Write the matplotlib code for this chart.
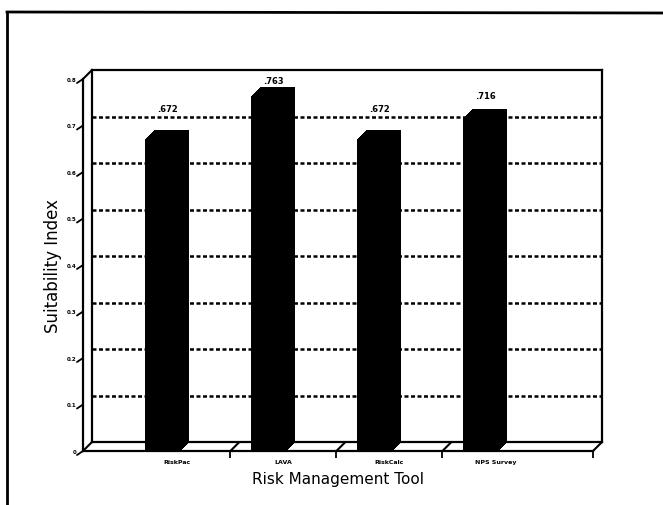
import numpy as np
import matplotlib
matplotlib.use("Agg")
import matplotlib.pyplot as plt
from matplotlib.patches import ConnectionPatch
from matplotlib.lines import Line2D
from matplotlib.transforms import offset_copy

# Suitability index of each risk management tool
tools = ['RiskPac', 'LAVA', 'RiskCalc', 'NPS Survey']
suitability = [0.672, 0.763, 0.672, 0.716]
value_labels = ['.672', '.763', '.672', '.716']
y_ticks = [0, 0.1, 0.2, 0.3, 0.4, 0.5, 0.6, 0.7, 0.8]
y_tick_labels = ['0', '0.1', '0.2', '0.3', '0.4', '0.5', '0.6', '0.7', '0.8']

W, H = 663, 506
DEPTH = 9  # pixel offset between the front and the back of the chart box


def px_rect(left, top, right, bottom):
    return [left / W, 1 - bottom / H, (right - left) / W, (bottom - top) / H]


fig = plt.figure(figsize=(W / 100, H / 100), dpi=100)
plt.rcParams['font.family'] = 'DejaVu Sans'

xlim = (-0.75, 4.06)
ylim = (0, 0.8)

# back wall with the dotted grid
ax = fig.add_axes(px_rect(92, 71, 602, 443))
ax.set_xlim(*xlim)
ax.set_ylim(*ylim)
ax.set_xticks([])
ax.set_yticks(y_ticks[1:-1])
ax.tick_params(length=0, labelleft=False)
ax.grid(axis='y', color='black', linestyle=(0, (1.6, 1.0)), linewidth=1.8)
for s in ax.spines.values():
    s.set_linewidth(1.6)

# front plane: axis lines, ticks and labels
axf = fig.add_axes(px_rect(92 - DEPTH, 71 + DEPTH, 602 - DEPTH, 443 + DEPTH))
axf.patch.set_visible(False)
axf.set_xlim(*xlim)
axf.set_ylim(*ylim)
axf.spines['top'].set_visible(False)
axf.spines['right'].set_visible(False)
axf.spines['left'].set_linewidth(1.6)
axf.spines['bottom'].set_linewidth(1.6)

x = np.arange(len(tools))

# oblique bars: sweep the front face back towards the wall
for k in np.arange(0, DEPTH + 0.01, 0.5):
    tr = offset_copy(axf.transData, fig=fig, x=k, y=k, units='dots')
    axf.bar(x, suitability, width=0.33, color='black', linewidth=0,
            transform=tr, clip_on=False, zorder=3)

axf.set_yticks(y_ticks)
axf.set_yticklabels(y_tick_labels, fontsize=4, fontweight='bold')
axf.tick_params(axis='y', length=0, pad=5)

boundaries = [0.64, 1.64, 2.64, xlim[1]]
axf.set_xticks(x + 0.14)
axf.set_xticklabels(tools, fontsize=4.5, fontweight='bold')
axf.set_xticks(boundaries, minor=True)
axf.tick_params(axis='x', which='major', length=0, pad=6)
axf.tick_params(axis='x', which='minor', direction='out', length=5, width=1.3)

# small slanted ticks on the value axis
for v in y_ticks:
    axf.annotate('', xy=(xlim[0], v), xytext=(-6, -4), textcoords='offset pixels',
                 annotation_clip=False,
                 arrowprops=dict(arrowstyle='-', lw=1.3, color='black',
                                 shrinkA=0, shrinkB=0))

# depth edges of the box and floor lines
edges = [(xlim[0], ylim[1]), (xlim[0], 0), (xlim[1], 0)] + [(b, 0) for b in boundaries[:-1]]
for ex, ey in edges:
    fig.add_artist(ConnectionPatch(xyA=(ex, ey), coordsA=axf.transData,
                                   xyB=(ex, ey), coordsB=ax.transData,
                                   color='black', lw=1.5))

# value labels above the bars
label_pad = [21, 7, 21, 14]
for xi, v, lbl, pad in zip(x, suitability, value_labels, label_pad):
    ax.annotate(lbl, xy=(xi, v), xytext=(-DEPTH / 2, pad), textcoords='offset pixels',
                ha='center', va='center', fontsize=6, fontweight='bold',
                annotation_clip=False, zorder=4)

axf.set_ylabel('Suitability Index', fontsize=12)
axf.yaxis.set_label_coords(-0.042, 0.5)
axf.set_xlabel('Risk Management Tool', fontsize=11)
axf.xaxis.set_label_coords(0.5, -0.055)

# page frame
fig.add_artist(Line2D([7 / W, 7 / W], [0, 1 - 13 / H], transform=fig.transFigure,
                      color='black', lw=2))
fig.add_artist(Line2D([7 / W, 1], [1 - 13 / H, 1 - 14 / H], transform=fig.transFigure,
                      color='black', lw=2))

fig.savefig('out.png', dpi=100)
